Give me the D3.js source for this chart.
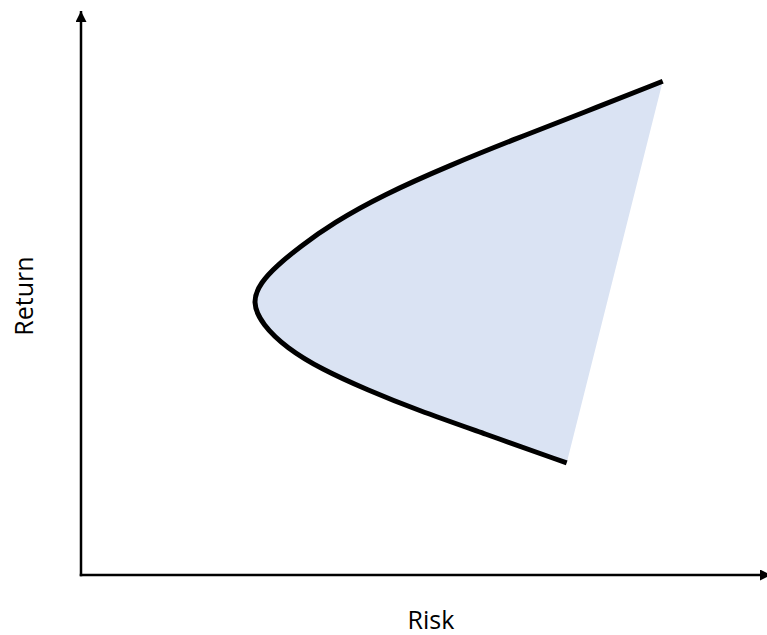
<!DOCTYPE html>
<html>
<head>
<meta charset="utf-8">
<script src="https://cdn.jsdelivr.net/npm/d3@7"></script>
<style>
  html, body { margin: 0; padding: 0; background: #fff; }
  svg { display: block; }
</style>
</head>
<body>
<svg id="chart" width="767" height="635"></svg>
<script>
// Frontier points, ordered from the lower end to the upper end (risk, return) in 0..10 units
const riskValues   = [7.08, 5.86, 4.90, 4.17, 3.50, 3.00, 2.64, 2.49, 2.62, 2.86, 3.19, 3.67, 4.40, 5.38, 6.36, 7.32, 8.48];
const returnValues = [1.99, 2.52, 2.93, 3.29, 3.66, 4.03, 4.45, 4.85, 5.20, 5.50, 5.83, 6.25, 6.75, 7.28, 7.76, 8.21, 8.77];
const axisLabels = { x: "Risk", y: "Return" };
const domainRisk = [0, 10];
const domainReturn = [0, 10];

const svg = d3.select("#chart");
const x = d3.scaleLinear().domain(domainRisk).range([81, 767]);
const y = d3.scaleLinear().domain(domainReturn).range([575, 12]);

const pts = riskValues.map((r, i) => [r, returnValues[i]]);

const line = d3.line()
  .x(d => x(d[0]))
  .y(d => y(d[1]))
  .curve(d3.curveBasis);

// Filled region: frontier curve closed by a straight segment between its endpoints
svg.append("path")
  .attr("d", line(pts) + "Z")
  .attr("fill", "#dae3f3")
  .attr("stroke", "none");

svg.append("path")
  .attr("d", line(pts))
  .attr("fill", "none")
  .attr("stroke", "#000")
  .attr("stroke-width", 5)
  .attr("stroke-linecap", "butt");

// Axes with arrows
const defs = svg.append("defs");
defs.append("marker")
  .attr("id", "arrow")
  .attr("viewBox", "0 0 10 10")
  .attr("refX", 10).attr("refY", 5)
  .attr("markerWidth", 11).attr("markerHeight", 11)
  .attr("markerUnits", "userSpaceOnUse")
  .attr("orient", "auto")
  .append("path")
  .attr("d", "M0,0 L10,5 L0,10 Z")
  .attr("fill", "#000");

svg.append("line")
  .attr("x1", x(0)).attr("y1", y(0) + 1.25)
  .attr("x2", x(0)).attr("y2", 11)
  .attr("stroke", "#000").attr("stroke-width", 2.5)
  .attr("marker-end", "url(#arrow)");

svg.append("line")
  .attr("x1", x(0) - 1.25).attr("y1", y(0))
  .attr("x2", 771).attr("y2", y(0))
  .attr("stroke", "#000").attr("stroke-width", 2.5)
  .attr("marker-end", "url(#arrow)");

svg.append("text")
  .attr("x", 431).attr("y", 629)
  .attr("text-anchor", "middle")
  .attr("font-family", "'Open Sans', sans-serif")
  .attr("font-size", 25)
  .attr("fill", "#000")
  .text(axisLabels.x);

svg.append("text")
  .attr("transform", "translate(33,296) rotate(-90)")
  .attr("text-anchor", "middle")
  .attr("font-family", "'Open Sans', sans-serif")
  .attr("font-size", 25)
  .attr("fill", "#000")
  .text(axisLabels.y);
</script>
</body>
</html>
